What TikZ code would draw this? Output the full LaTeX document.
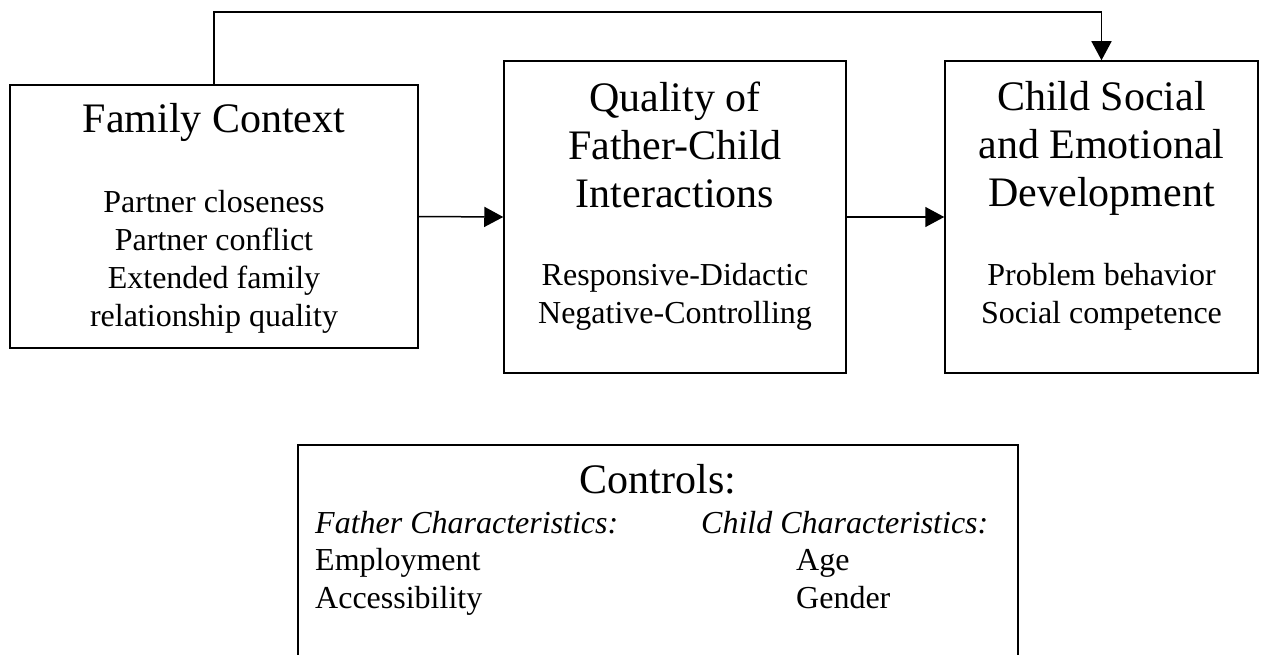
\documentclass[tikz,border=0pt]{standalone}
\usepackage{fontspec}
\setmainfont{Liberation Serif}
\usetikzlibrary{arrows.meta}
\begin{document}
\begin{tikzpicture}[x=1pt,y=-1pt,
  box/.style={draw,line width=1.5pt,inner sep=0pt},
  head/.style={font=\fontsize{42}{48}\selectfont,align=center,inner sep=0pt},
  body/.style={font=\fontsize{32}{38}\selectfont,align=center,inner sep=0pt},
  ctrl/.style={font=\fontsize{32}{38}\selectfont,inner sep=0pt,anchor=base west},
  arr/.style={line width=1.5pt,-{Triangle[length=19pt,width=20pt]}}]
\clip (0,0) rectangle (1263,655);
\node[box,minimum width=408pt,minimum height=263pt] (fam) at (214,216.5) {};
\node[box,minimum width=342pt,minimum height=312pt] (qua) at (675,217) {};
\node[box,minimum width=313pt,minimum height=312pt] (dev) at (1101.5,217) {};
\node[box,minimum width=720pt,minimum height=300pt,anchor=north] (con) at (658,444) {};
\node[head,anchor=base] (famhead) at (214,133) {Family Context};
\node[body,anchor=north] (fambody) at (214,190) {Partner closeness\\Partner conflict\\Extended family\\relationship quality};
\node[head,anchor=north] (quahead) at (675,81.3) {Quality of\\Father-Child\\Interactions};
\node[body,anchor=north] (quabody) at (675,263) {Responsive-Didactic\\Negative-Controlling};
\node[head,anchor=north] (devhead) at (1101.5,81.3) {Child Social\\and Emotional\\Development};
\node[body,anchor=north] (devbody) at (1101.5,263) {Problem behavior\\Social competence};
\node[head,anchor=base] (conhead) at (658,493) {Controls:};
\node[ctrl,font=\fontsize{32}{38}\selectfont\itshape] (fathchar) at (315,533) {Father Characteristics:};
\node[ctrl,font=\fontsize{32}{38}\selectfont\itshape] (childchar) at (701,533) {Child Characteristics:};
\node[ctrl] (employ) at (315,570) {Employment};
\node[ctrl] (access) at (315,608) {Accessibility};
\node[ctrl] (age) at (796,570) {Age};
\node[ctrl] (gender) at (796,608) {Gender};
\draw[arr] (fam.east) -- (qua.west);
\draw[arr] (qua.east) -- (dev.west);
\draw[arr] (fam.north) -- ++(0,-72) -| (dev.north);
\end{tikzpicture}
\end{document}
